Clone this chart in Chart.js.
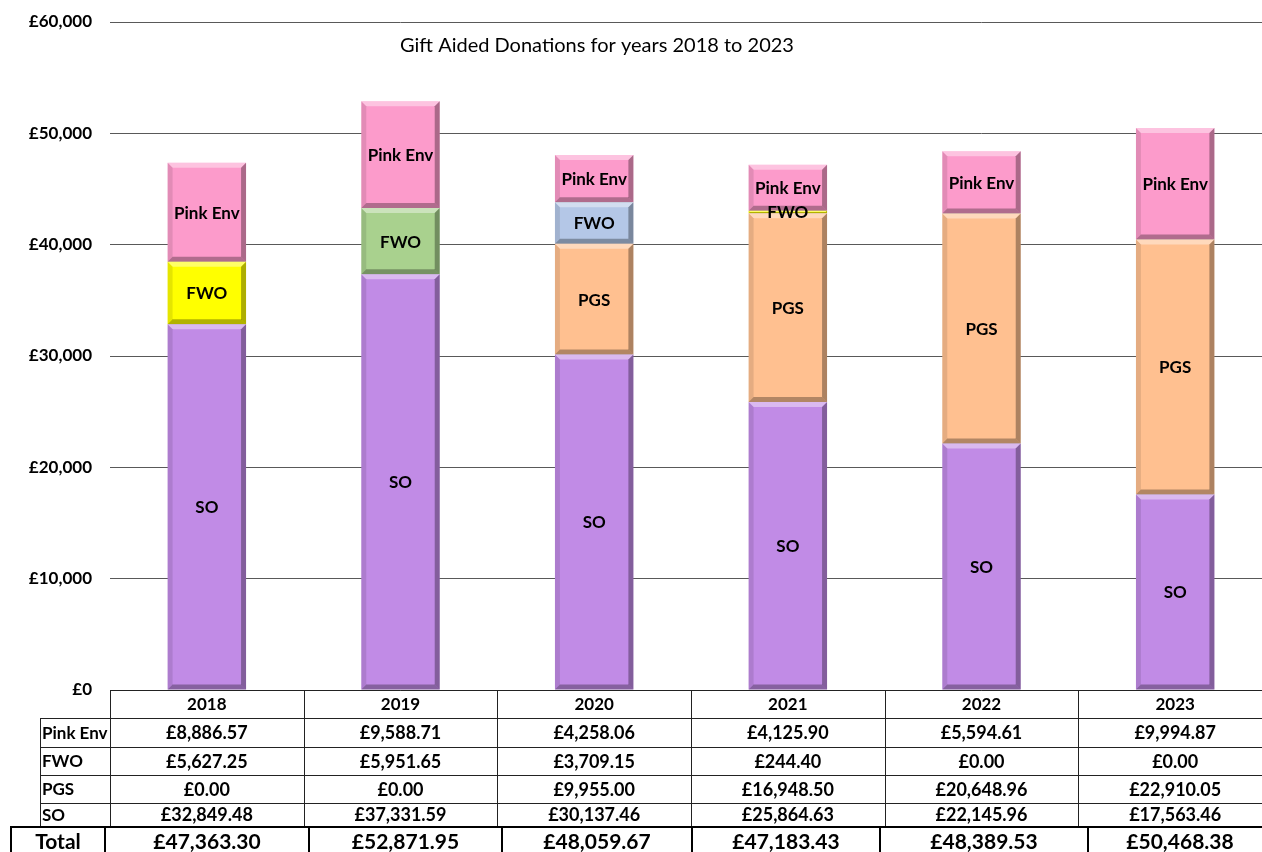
<!DOCTYPE html>
<html>
<head>
<meta charset="utf-8">
<script src="https://cdn.jsdelivr.net/npm/chart.js@4/dist/chart.umd.min.js"></script>
<style>
  html, body { margin: 0; padding: 0; background: #fff; overflow: hidden; }
  #wrap { width: 1272px; height: 852px; }
</style>
</head>
<body>
<div id="wrap"><canvas id="giftAidChart" width="1272" height="852"></canvas></div>
<script>
// data
const years = ['2018', '2019', '2020', '2021', '2022', '2023'];
const pinkEnv = [8886.57, 9588.71, 4258.06, 4125.90, 5594.61, 9994.87];
const fwo = [5627.25, 5951.65, 3709.15, 244.40, 0.00, 0.00];
const pgs = [0.00, 0.00, 9955.00, 16948.50, 20648.96, 22910.05];
const so = [32849.48, 37331.59, 30137.46, 25864.63, 22145.96, 17563.46];
const yTicks = [0, 10000, 20000, 30000, 40000, 50000, 60000];

const fwoColors = ['#FFFF00', '#A9D18E', '#B4C7E7', '#FFFF00', '#FFFF00', '#FFFF00'];
const FONT = 'Lato, "Noto Sans", sans-serif';

function money(v, dp) {
    return '£' + v.toLocaleString('en-GB', { minimumFractionDigits: dp, maximumFractionDigits: dp });
}

const totals = years.map((_, i) => Math.round((pinkEnv[i] + fwo[i] + pgs[i] + so[i]) * 100) / 100);

// rows of the table under the chart, top to bottom
const tableRows = [
    { label: 'Pink Env', values: pinkEnv },
    { label: 'FWO', values: fwo },
    { label: 'PGS', values: pgs },
    { label: 'SO', values: so }
];

// bevel + segment labels
const bevelPlugin = {
    id: 'bevel',
    afterDatasetsDraw: (chart) => {
        const ctx = chart.ctx;
        chart.data.datasets.forEach((ds, di) => {
            const meta = chart.getDatasetMeta(di);
            meta.data.forEach((bar, i) => {
                if (!ds.data[i]) return;
                const w = bar.width;
                const l = bar.x - w / 2, r = bar.x + w / 2;
                const t = Math.min(bar.y, bar.base), b = Math.max(bar.y, bar.base);
                const h = b - t;
                const e = Math.min(5, h / 2);
                ctx.save();
                // top highlight
                ctx.fillStyle = 'rgba(255,255,255,0.4)';
                ctx.beginPath();
                ctx.moveTo(l, t); ctx.lineTo(r, t); ctx.lineTo(r - e, t + e); ctx.lineTo(l + e, t + e);
                ctx.closePath(); ctx.fill();
                // bottom shade
                ctx.fillStyle = 'rgba(0,0,0,0.3)';
                ctx.beginPath();
                ctx.moveTo(l, b); ctx.lineTo(r, b); ctx.lineTo(r - e, b - e); ctx.lineTo(l + e, b - e);
                ctx.closePath(); ctx.fill();
                // right shade
                ctx.fillStyle = 'rgba(0,0,0,0.32)';
                ctx.beginPath();
                ctx.moveTo(r, t); ctx.lineTo(r, b); ctx.lineTo(r - e, b - e); ctx.lineTo(r - e, t + e);
                ctx.closePath(); ctx.fill();
                // left shade
                ctx.fillStyle = 'rgba(0,0,0,0.10)';
                ctx.beginPath();
                ctx.moveTo(l, t); ctx.lineTo(l, b); ctx.lineTo(l + e, b - e); ctx.lineTo(l + e, t + e);
                ctx.closePath(); ctx.fill();
                ctx.restore();
            });
        });
        // labels on top of everything
        chart.data.datasets.forEach((ds, di) => {
            const meta = chart.getDatasetMeta(di);
            meta.data.forEach((bar, i) => {
                if (!ds.data[i]) return;
                ctx.save();
                ctx.fillStyle = '#000';
                ctx.font = 'bold 17px ' + FONT;
                ctx.textAlign = 'center';
                ctx.textBaseline = 'middle';
                ctx.fillText(ds.label, bar.x, (bar.y + bar.base) / 2 + 1);
                ctx.restore();
            });
        });
    }
};

const titlePlugin = {
    id: 'titleText',
    afterDraw: (chart) => {
        const ctx = chart.ctx;
        ctx.save();
        ctx.fillStyle = '#000';
        ctx.font = '20px ' + FONT;
        ctx.textAlign = 'center';
        ctx.textBaseline = 'middle';
        ctx.fillText('Gift Aided Donations for years 2018 to 2023', 597, 46);
        ctx.restore();
    }
};

// the data table drawn under the plot area
const tablePlugin = {
    id: 'dataTable',
    afterDraw: (chart) => {
        const ctx = chart.ctx;
        const area = chart.chartArea;
        const xs = chart.scales.x;
        const catW = xs.getPixelForValue(1) - xs.getPixelForValue(0);
        const edges = years.map((_, i) => area.left + i * catW).concat([area.left + years.length * catW]);
        const top = area.bottom;
        const rowY = [top, top + 28, top + 57, top + 85, top + 113, top + 136];
        const labelLeft = 40;
        const right = chart.width;

        ctx.save();
        ctx.strokeStyle = '#222';
        ctx.lineWidth = 1;
        ctx.beginPath();
        ctx.moveTo(area.left, rowY[0] + 0.5); ctx.lineTo(right, rowY[0] + 0.5);
        for (let r = 1; r < rowY.length; r++) {
            ctx.moveTo(labelLeft, rowY[r] + 0.5); ctx.lineTo(right, rowY[r] + 0.5);
        }
        edges.forEach(x => {
            ctx.moveTo(Math.round(x) + 0.5, rowY[0]); ctx.lineTo(Math.round(x) + 0.5, rowY[5]);
        });
        ctx.moveTo(labelLeft + 0.5, rowY[1]); ctx.lineTo(labelLeft + 0.5, rowY[5]);
        ctx.stroke();

        ctx.fillStyle = '#000';
        ctx.textBaseline = 'middle';
        ctx.font = 'bold 17px ' + FONT;
        ctx.textAlign = 'center';
        years.forEach((yr, i) => ctx.fillText(yr, (edges[i] + edges[i + 1]) / 2, (rowY[0] + rowY[1]) / 2 + 1));
        tableRows.forEach((row, r) => {
            const cy = (rowY[r + 1] + rowY[r + 2]) / 2 + 1;
            ctx.font = 'bold 17px ' + FONT;
            ctx.textAlign = 'left';
            ctx.fillText(row.label, labelLeft + 2, cy);
            ctx.font = 'bold 18px ' + FONT;
            ctx.textAlign = 'center';
            row.values.forEach((v, i) => ctx.fillText(money(v, 2), (edges[i] + edges[i + 1]) / 2, cy));
        });

        // total row (its own cell widths, thicker borders)
        const tTop = rowY[5];
        const tCols = [11, 105, 309, 502, 692, 880, 1088];
        ctx.lineWidth = 2;
        ctx.strokeStyle = '#000';
        ctx.beginPath();
        ctx.moveTo(tCols[0], tTop + 1); ctx.lineTo(right, tTop + 1);
        tCols.forEach(x => { ctx.moveTo(x, tTop); ctx.lineTo(x, chart.height); });
        ctx.stroke();
        ctx.font = 'bold 21px ' + FONT;
        const tcy = tTop + 16;
        ctx.fillText('Total', (tCols[0] + tCols[1]) / 2, tcy);
        totals.forEach((v, i) => {
            const x0 = tCols[i + 1];
            const x1 = i + 2 < tCols.length ? tCols[i + 2] : 1272;
            ctx.fillText(money(v, 2), (x0 + x1) / 2, tcy);
        });
        ctx.restore();
    }
};

const ctx = document.getElementById('giftAidChart').getContext('2d');
new Chart(ctx, {
    type: 'bar',
    data: {
        labels: years,
        datasets: [
            { label: 'SO', data: so, backgroundColor: '#C18BE6' },
            { label: 'PGS', data: pgs, backgroundColor: '#FFC090' },
            { label: 'FWO', data: fwo, backgroundColor: fwoColors },
            { label: 'Pink Env', data: pinkEnv, backgroundColor: '#FC9BCB' }
        ]
    },
    options: {
        responsive: false,
        animation: false,
        layout: { padding: { top: 22, bottom: 162, left: 0, right: 0 } },
        datasets: {
            bar: { categoryPercentage: 1.0, barPercentage: 0.405, borderWidth: 0 }
        },
        scales: {
            x: {
                stacked: true,
                display: false
            },
            y: {
                stacked: true,
                min: 0,
                max: 60000,
                afterBuildTicks: (scale) => { scale.ticks = yTicks.map(v => ({ value: v })); },
                afterFit: (scale) => {
                    scale.width = 110;
                    scale.paddingTop = 0;
                    scale.paddingBottom = 0;
                },
                border: { display: false },
                grid: { color: '#595959', lineWidth: 1, drawTicks: false },
                ticks: {
                    padding: 18,
                    color: '#000',
                    font: { family: FONT, size: 17, weight: 'bold' },
                    callback: (v) => money(v, 0)
                }
            }
        },
        plugins: {
            legend: { display: false },
            tooltip: { enabled: false }
        }
    },
    plugins: [bevelPlugin, titlePlugin, tablePlugin]
});
</script>
</body>
</html>
